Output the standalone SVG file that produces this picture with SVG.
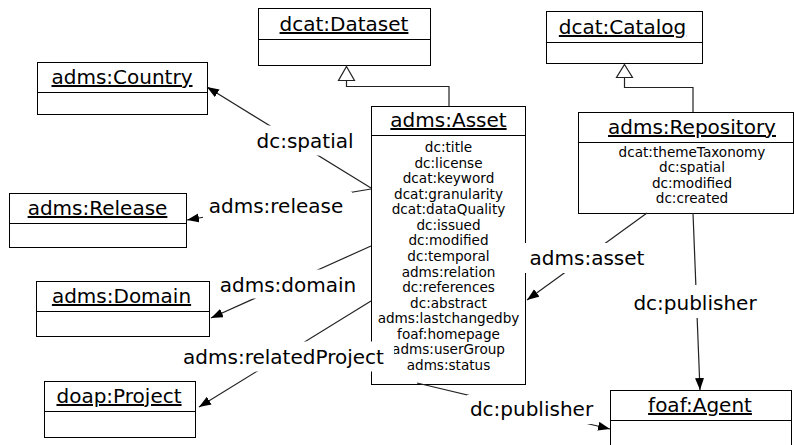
<svg xmlns="http://www.w3.org/2000/svg" width="794" height="445" viewBox="0 0 794 445">
<style>
.box{fill:#fff;stroke:#000;stroke-width:1}
.div{stroke:#000;stroke-width:1}
.t{font-family:"DejaVu Sans",sans-serif;font-size:20px;fill:#000;text-anchor:middle;text-decoration:underline}
.a{font-family:"DejaVu Sans",sans-serif;font-size:13.6px;fill:#000;text-anchor:middle}
.l{font-family:"DejaVu Sans",sans-serif;font-size:20px;fill:#000;text-anchor:middle}
.c{stroke:#222;stroke-width:1.2;fill:none}
.bg{fill:#fff;stroke:none}
</style>
<defs>
<marker id="ar" markerUnits="userSpaceOnUse" markerWidth="13" markerHeight="10" refX="12" refY="4.5" orient="auto">
<path d="M0,0 L12,4.5 L0,9 z" fill="#000"/>
</marker>
</defs>
<rect width="794" height="445" fill="#fff"/>
<g id="nodes">
<g id="dataset">
<rect class="box" x="258.5" y="8.5" width="172" height="57"/>
<line class="div" x1="258.5" y1="39.5" x2="430.5" y2="39.5"/>
<text class="t" x="344" y="31">dcat:Dataset</text>
</g>
<g id="catalog">
<rect class="box" x="546.5" y="11.5" width="156" height="52"/>
<line class="div" x1="546.5" y1="42.5" x2="702.5" y2="42.5"/>
<text class="t" x="622.5" y="34">dcat:Catalog</text>
</g>
<g id="country">
<rect class="box" x="37.5" y="62.5" width="170" height="52"/>
<line class="div" x1="37.5" y1="92.5" x2="207.5" y2="92.5"/>
<text class="t" x="122" y="84">adms:Country</text>
</g>
<g id="release">
<rect class="box" x="9.5" y="193.5" width="177" height="54"/>
<line class="div" x1="9.5" y1="223.5" x2="186.5" y2="223.5"/>
<text class="t" x="97.5" y="215">adms:Release</text>
</g>
<g id="domain">
<rect class="box" x="36.5" y="281.5" width="173" height="55"/>
<line class="div" x1="36.5" y1="311.5" x2="209.5" y2="311.5"/>
<text class="t" x="121.5" y="303">adms:Domain</text>
</g>
<g id="project">
<rect class="box" x="44.5" y="381.5" width="151" height="56"/>
<line class="div" x1="44.5" y1="411.5" x2="195.5" y2="411.5"/>
<text class="t" x="119" y="403">doap:Project</text>
</g>
<g id="agent">
<rect class="box" x="610.5" y="390.5" width="181" height="62"/>
<line class="div" x1="610.5" y1="420.5" x2="791.5" y2="420.5"/>
<text class="t" x="700" y="412">foaf:Agent</text>
</g>
<g id="repository">
<rect class="box" x="578.5" y="112.5" width="215" height="101"/>
<line class="div" x1="578.5" y1="142.5" x2="793.5" y2="142.5"/>
<text class="t" x="692" y="134">adms:Repository</text>
<text class="a" x="692" y="157">dcat:themeTaxonomy</text>
<text class="a" x="692" y="172">dc:spatial</text>
<text class="a" x="692" y="187.5">dc:modified</text>
<text class="a" x="692" y="203">dc:created</text>
</g>
<g id="asset">
<rect class="box" x="371.5" y="106.5" width="154" height="278"/>
<line class="div" x1="371.5" y1="135.5" x2="525.5" y2="135.5"/>
<text class="t" x="448.5" y="127">adms:Asset</text>
<text class="a" x="448.5" y="152">dc:title</text>
<text class="a" x="448.5" y="167.6">dc:license</text>
<text class="a" x="448.5" y="183.1">dcat:keyword</text>
<text class="a" x="448.5" y="198.7">dcat:granularity</text>
<text class="a" x="448.5" y="214.3">dcat:dataQuality</text>
<text class="a" x="448.5" y="229.9">dc:issued</text>
<text class="a" x="448.5" y="245.4">dc:modified</text>
<text class="a" x="448.5" y="261">dc:temporal</text>
<text class="a" x="448.5" y="276.6">adms:relation</text>
<text class="a" x="448.5" y="292.1">dc:references</text>
<text class="a" x="448.5" y="307.7">dc:abstract</text>
<text class="a" x="448.5" y="323.3">adms:lastchangedby</text>
<text class="a" x="448.5" y="338.8">foaf:homepage</text>
<text class="a" x="448.5" y="354.4">adms:userGroup</text>
<text class="a" x="448.5" y="370">adms:status</text>
</g>
</g>
<g id="connectors">
<path class="c" d="M449,106 V86.5 H346.5 V80"/>
<path d="M346.5,66.5 L354.5,80.5 L338.5,80.5 z" fill="#fff" stroke="#222" stroke-width="1.2"/>
<path class="c" d="M693,112 V87.5 H624.5 V77.5"/>
<path d="M624.5,64.5 L632.5,77.5 L616.5,77.5 z" fill="#fff" stroke="#222" stroke-width="1.2"/>
<line class="c" x1="371" y1="188" x2="207" y2="87" marker-end="url(#ar)"/>
<line class="c" x1="371" y1="189" x2="187" y2="220" marker-end="url(#ar)"/>
<line class="c" x1="371" y1="246" x2="211" y2="318" marker-end="url(#ar)"/>
<line class="c" x1="371" y1="301" x2="199" y2="407" marker-end="url(#ar)"/>
<line class="c" x1="647" y1="213" x2="527" y2="300" marker-end="url(#ar)"/>
<line class="c" x1="693" y1="213" x2="700" y2="390" marker-end="url(#ar)"/>
<line class="c" x1="417" y1="383" x2="610" y2="429" marker-end="url(#ar)"/>
<g id="lbl-spatial"><rect class="bg" x="254" y="125.5" width="101" height="30"/><text class="l" x="305" y="148">dc:spatial</text></g>
<g id="lbl-release"><rect class="bg" x="203" y="192" width="149" height="28"/><text class="l" x="276" y="213">adms:release</text></g>
<g id="lbl-domain"><rect class="bg" x="216" y="269.5" width="144" height="29"/><text class="l" x="288" y="292">adms:domain</text></g>
<g id="lbl-related"><rect class="bg" x="176" y="341.5" width="218" height="30"/><text class="l" x="283.5" y="364">adms:relatedProject</text></g>
<g id="lbl-asset"><rect class="bg" x="522" y="243" width="128" height="30"/><text class="l" x="587" y="265">adms:asset</text></g>
<g id="lbl-pub1"><rect class="bg" x="631" y="285" width="128" height="33"/><text class="l" x="695" y="310">dc:publisher</text></g>
<g id="lbl-pub2"><rect class="bg" x="467" y="395" width="129" height="29"/><text class="l" x="531.5" y="416">dc:publisher</text></g>
</g>
</svg>
